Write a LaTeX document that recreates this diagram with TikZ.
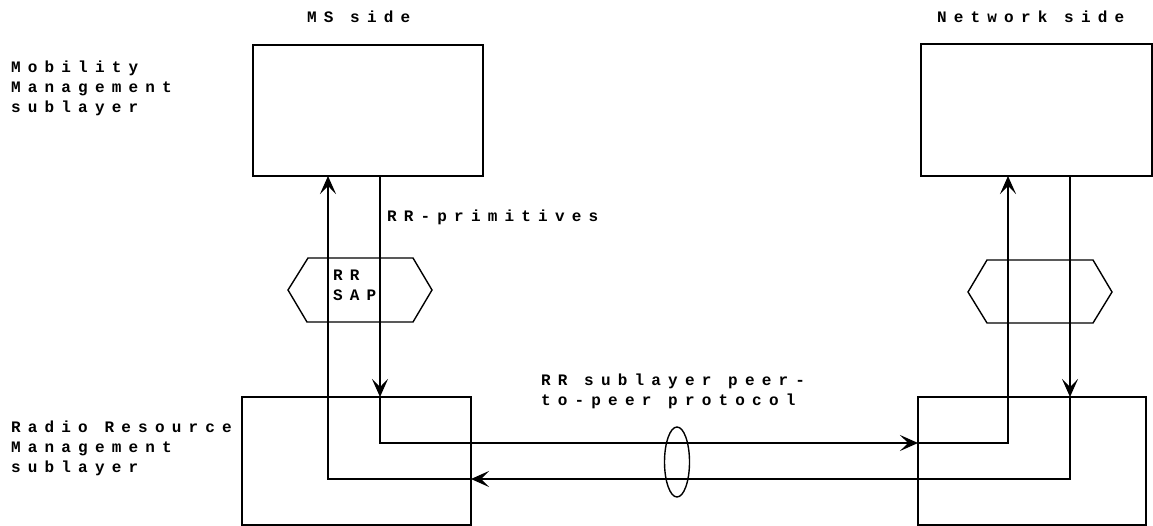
\documentclass[tikz,border=0pt]{standalone}
\usepackage{fontspec}
\newfontfamily\lblfont[LetterSpace=45,UprightFont={* Bold}]{Liberation Mono}
\usetikzlibrary{arrows.meta,shapes.geometric}
\begin{document}
\begin{tikzpicture}[x=1pt,y=-1pt,
  every node/.style={inner sep=0pt,outer sep=0pt},
  lbl/.style={font=\lblfont\fontsize{16}{20}\selectfont,align=left,anchor=north west},
  box/.style={draw,line width=1.5pt,anchor=north west},
  wire/.style={line width=1.3pt},
  arr/.style={wire,-{Stealth[length=18pt,width=16pt,inset=8pt]}},
  hexa/.style={draw,line width=1.4pt}]
\useasboundingbox (0,0) rectangle (1153,526);
% boxes
\node[box,minimum width=230pt,minimum height=131pt] (msmm) at (253,45) {};
\node[box,minimum width=231pt,minimum height=132pt] (nwmm) at (921,44) {};
\node[box,minimum width=229pt,minimum height=128pt] (msrr) at (242,397) {};
\node[box,minimum width=228pt,minimum height=128pt] (nwrr) at (918,397) {};
% helper coordinates
\coordinate (xl1) at (328,0);
\coordinate (xl2) at (380,0);
\coordinate (xr1) at (1008,0);
\coordinate (xr2) at (1070,0);
\coordinate (ya) at (0,443);
\coordinate (yb) at (0,479);
% SAP hexagons
\draw[hexa] (288,290) -- (308,258) -- (413,258) -- (432,290) -- (413,322) -- (307,322) -- cycle;
\draw[hexa] (968,292) -- (987,260) -- (1093,260) -- (1112,292) -- (1093,323) -- (987,323) -- cycle;
% connectors
\draw[arr] (msmm.south -| xl2) -- (msrr.north -| xl2);
\draw[arr] (msrr.north -| xl2) |- (nwrr.west |- ya);
\draw[arr] (nwrr.west |- ya) -| (nwmm.south -| xr1);
\draw[arr] (nwmm.south -| xr2) -- (nwrr.north -| xr2);
\draw[arr] (nwrr.north -| xr2) |- (msrr.east |- yb);
\draw[arr] (msrr.east |- yb) -| (msmm.south -| xl1);
% ellipse
\node[draw,ellipse,line width=1.4pt,minimum width=25pt,minimum height=70pt] (ell) at (677,462) {};
% labels
\node[lbl] (tms) at (307,11) {MS side};
\node[lbl] (tnw) at (937,11) {Network side};
\node[lbl] (tmm) at (11,61) {Mobility\\Management\\sublayer};
\node[lbl] (trr) at (11,421) {Radio Resource\\Management\\sublayer};
\node[lbl] (tsap) at (333,270) {RR\\SAP};
\node[lbl] (tprim) at (387,210) {RR-primitives};
\node[lbl] (tpeer) at (541,374) {RR sublayer peer-\\to-peer protocol};
\end{tikzpicture}
\end{document}
